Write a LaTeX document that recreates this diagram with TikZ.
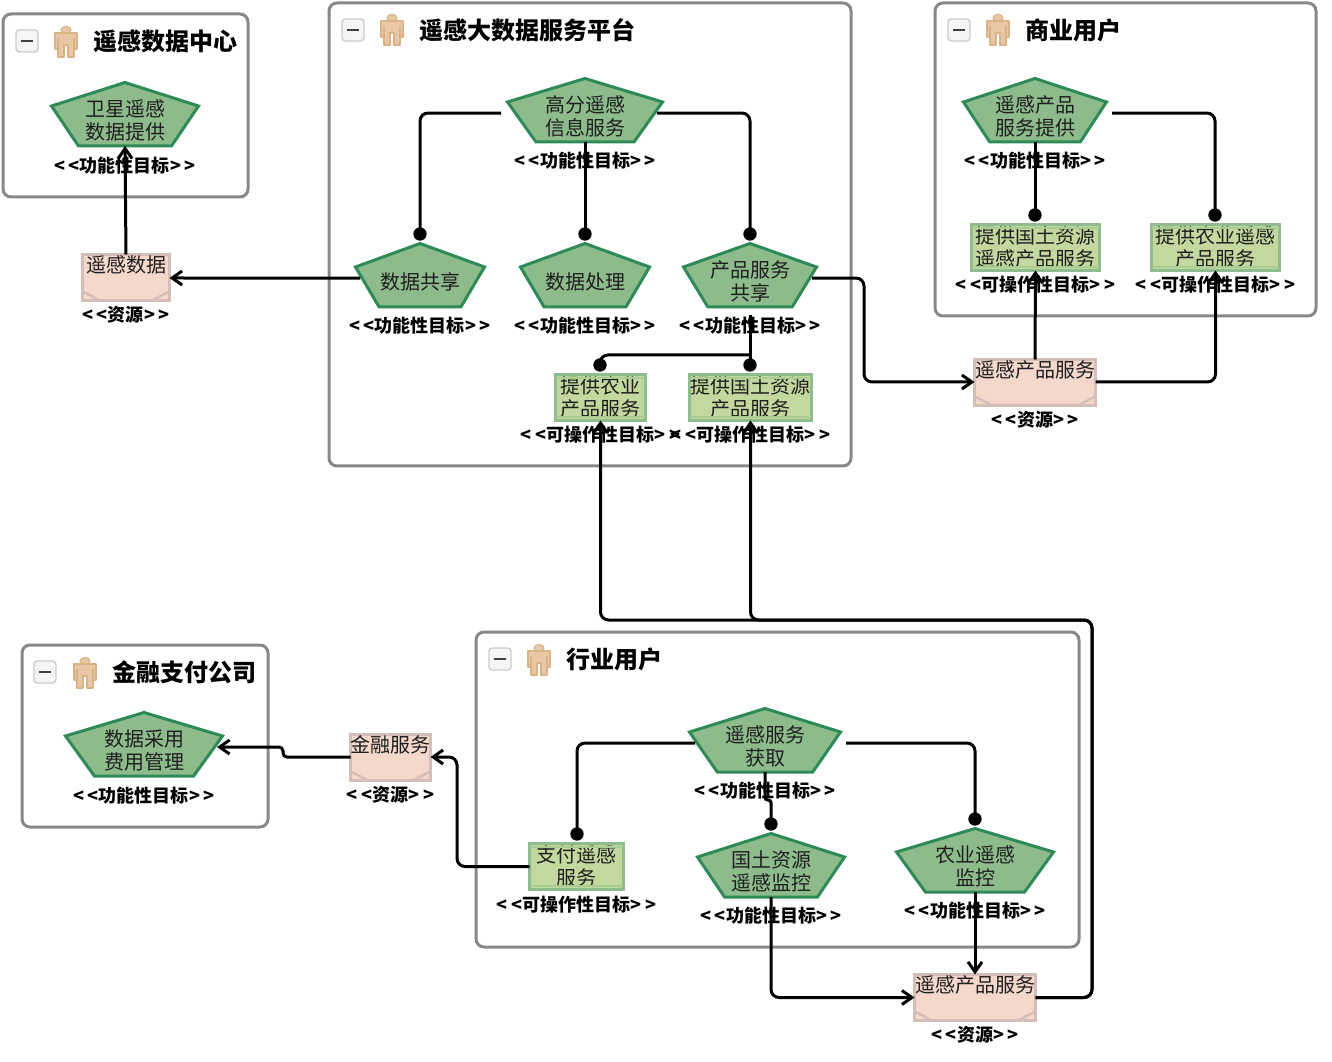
\documentclass[tikz,border=0pt]{standalone}
\usepackage{fontspec}
\setmainfont{Noto Sans CJK SC}
\usetikzlibrary{arrows.meta,calc}
\definecolor{goalfill}{HTML}{8DBB8C}
\definecolor{goalline}{HTML}{2E8B57}
\definecolor{opfill}{HTML}{C2D89E}
\definecolor{opline}{HTML}{8FBC8F}
\definecolor{opinner}{HTML}{A9CC92}
\definecolor{resfill}{HTML}{F4D8CC}
\definecolor{resline}{HTML}{D5BDB8}
\definecolor{boxline}{HTML}{888888}
\definecolor{personfill}{HTML}{EAC7A4}
\definecolor{personline}{HTML}{D9B286}
\tikzset{
  x=0.75pt,y=-0.75pt,
  container/.style={draw=boxline,line width=2.25pt,rounded corners=6pt,fill=white},
  goalshape/.style={draw=goalline,line width=2.25pt,fill=goalfill,line join=miter},
  goaltext/.style={inner sep=0pt,outer sep=0pt,align=center,text=black!88,font=\fontsize{15}{17.25}\selectfont,minimum height=38.25pt},
  opbox/.style={draw=opline,line width=2.25pt,fill=opfill,inner sep=0pt,outer sep=0pt,align=center,text=black!88,font=\fontsize{15}{17.25}\selectfont},
  opinnerline/.style={draw=opinner,line width=1.5pt},
  resbox/.style={draw=resline,line width=2.25pt,fill=resfill,inner sep=0pt,outer sep=0pt,align=center,text=black!88,font=\fontsize{15}{17.25}\selectfont},
  reschev/.style={draw=resline,line width=1.8pt},
  stereo/.style={inner sep=0pt,font=\bfseries\fontsize{13.5}{15}\selectfont},
  titletext/.style={inner sep=0pt,anchor=west,font=\bfseries\fontsize{18}{20}\selectfont},
  conn/.style={line width=2.25pt,draw=black,rounded corners=6pt},
  tip/.style={-{Straight Barb[length=7.5pt,width=10.5pt,line width=2.25pt]}},
  dotnode/.style={circle,fill=black,inner sep=0pt,minimum size=10pt,outer sep=0pt},
  btn/.style={draw=black!20,fill=black!4,line width=1.1pt,rounded corners=2.5pt,minimum size=16.5pt,inner sep=0pt},
}
\newcommand{\sterE}[1]{<\kern2.8pt<\kern0.2pt#1\kern0.2pt>\kern2.8pt>}
\newcommand{\goalnode}[6]{%
  \draw[goalshape] ({#2},{#3+1.5}) -- ({#2+#4-1.5},{#3+25}) -- ({#2+#4*0.62},{#3+65}) -- ({#2-#4*0.62},{#3+65}) -- ({#2-#4+1.5},{#3+25}) -- cycle;
  \node[goaltext,minimum width=#4*1.5pt] (#1) at ({#2},{#3+39.5}) {#5};
  \node[stereo] (#1-st) at ({#2},{#6}) {\sterE{功能性目标}};
}
\newcommand{\opnode}[7]{%
  \node[opbox,minimum width=(#4-#2-3)*.75pt,minimum height=(#5-#3-3)*.75pt] (#1) at ({(#2+#4)/2},{(#3+#5)/2}) {#6};
  \draw[opinnerline] ({#2+2},{#3+5}) -- ({#4-2},{#3+5});
  \draw[opinnerline] ({#2+2},{#5-5}) -- ({#4-2},{#5-5});
  \node[stereo] (#1-st) at ({(#2+#4)/2},{#7}) {\sterE{可操作性目标}};
}
\newcommand{\resnode}[6]{%
  \node[resbox,minimum width=(#4-#2-3)*.75pt,minimum height=(#5-#3-3)*.75pt] (#1) at ({(#2+#4)/2},{(#3+#5)/2}) {\raisebox{3.9pt}[0pt][0pt]{#6}};
  \draw[reschev] ({#2+1},{#5-11}) -- ({#2+18},{#5-2});
  \draw[reschev] ({#4-1},{#5-11}) -- ({#4-18},{#5-2});
  \node[stereo] (#1-st) at ({(#2+#4)/2},{#5+13}) {\sterE{资源}};
}
\newcommand{\header}[6]{%
  \node[btn] (#1-btn) at ({#2},{#3}) {};
  \draw[line width=2pt,draw=black!75] ({#2-6},{#3}) -- ({#2+6},{#3});
  \begin{scope}[shift={({#4},{#5})}]
    \draw[fill=personfill,draw=personline,line width=.8pt] (0,4) ellipse (5 and 3.6);
    \draw[fill=personfill,draw=personline,line width=.8pt,line join=round] (-11,7) -- (11,7) -- (11,23) -- (8,23) -- (8,31) -- (2,31) -- (2,19) -- (-2,19) -- (-2,31) -- (-8,31) -- (-8,23) -- (-11,23) -- cycle;
    \draw[draw=personline,line width=.8pt] (-8,12) -- (-8,23) (8,12) -- (8,23);
  \end{scope}
  \node[titletext] (#1-title) at ({#4+27},{#3}) {#6};
}
\begin{document}
\begin{tikzpicture}
\useasboundingbox (0,0) rectangle (1332,1062);
% containers
\draw[container] (3,14) rectangle (248,197);
\draw[container] (329,3) rectangle (851,466);
\draw[container] (935,3) rectangle (1316,316);
\draw[container] (22,645) rectangle (268,827);
\draw[container] (476,632) rectangle (1079,947);
\header{c1}{27}{41}{66}{26}{遥感数据中心}
\header{c2}{353}{30}{392}{14}{遥感大数据服务平台}
\header{c3}{959}{30}{998}{14}{商业用户}
\header{c4}{45}{672}{85}{657}{金融支付公司}
\header{c5}{500}{659}{539}{644}{行业用户}
% goals
\goalnode{sat}{125}{81}{75}{卫星遥感\\数据提供}{166}
\goalnode{gf}{585}{77}{79}{高分遥感\\信息服务}{161}
\goalnode{share}{420}{242}{66}{数据共享}{326}
\goalnode{proc}{585}{242}{66}{数据处理}{326}
\goalnode{pshare}{750}{242}{68}{产品服务\\共享}{326}
\goalnode{prov}{1035}{77}{73}{遥感产品\\服务提供}{161}
\goalnode{fee}{144}{711}{80}{数据采用\\费用管理}{796}
\goalnode{get}{765}{707}{77}{遥感服务\\获取}{791}
\goalnode{land}{771}{832}{75}{国土资源\\遥感监控}{916}
\goalnode{agri}{975}{827}{80}{农业遥感\\监控}{911}
% operational goals
\opnode{oland}{970}{223}{1101}{272}{提供国土资源\\遥感产品服务}{285}
\opnode{oagri}{1150}{223}{1281}{272}{提供农业遥感\\产品服务}{285}
\opnode{pagri}{554}{373}{647}{422}{提供农业\\产品服务}{435}
\opnode{pland}{688}{373}{813}{422}{提供国土资源\\产品服务}{435}
\opnode{pay}{528}{842}{625}{891}{支付遥感\\服务}{905}
% resources
\resnode{rdata}{81}{253}{171}{302}{遥感数据}
\resnode{rprod}{973}{358}{1097}{407}{遥感产品服务}
\resnode{rfin}{349}{733}{432}{782}{金融服务}
\resnode{rind}{913}{973}{1037}{1022}{遥感产品服务}
% dots
\node[dotnode] (d1) at (420,234) {};
\node[dotnode] (d2) at (585,234) {};
\node[dotnode] (d3) at (750,234) {};
\node[dotnode] (d4) at (600,365) {};
\node[dotnode] (d5) at (750,365) {};
\node[dotnode] (d6) at (1035,215) {};
\node[dotnode] (d7) at (1215,215) {};
\node[dotnode] (d8) at (577,834) {};
\node[dotnode] (d9) at (771,824) {};
\node[dotnode] (d10) at (975,819) {};
\coordinate (b1) at (750,355);
\coordinate (b2) at (864,382);
\coordinate (b3) at (1092,620);
\coordinate (b4) at (457,757);
\coordinate (b5) at (283,747);
\coordinate (b6) at (765,800);
% connectors
\draw[conn,tip] (rdata.north) -- (sat.south);
\draw[conn,tip] ([xshift=4.5pt,yshift=2.6pt]share.west) -- (rdata.east |- {0,278});
\draw[conn] ([xshift=-3.75pt,yshift=2.6pt]gf.west) -| (d1.center);
\draw[conn] (gf.south) -- (d2.center);
\draw[conn] ([xshift=-5.25pt,yshift=2.6pt]gf.east) -| (d3.center);
\draw[conn] ([yshift=-6pt]pshare.south) -- (d5.center);
\draw[conn] (b1) -- (750-150,355) -- (d4.center);
\draw[conn,tip] ([xshift=-4.5pt,yshift=2.6pt]pshare.east) -| (b2) -- (rprod.west |- b2);
\draw[conn,tip] (rprod.north) -- (oland.south);
\draw[conn,tip] (rprod.east |- b2) -| (oagri.south);
\draw[conn] (prov.south) -- (d6.center);
\draw[conn] ([xshift=3pt,yshift=2.6pt]prov.east) -| (d7.center);
\draw[conn,tip] (rind.east) -| (b3) -| (pland.south);
\draw[conn,tip] (rind.east) -| (b3) -| (pagri.south);
\draw[conn] ([xshift=5.25pt,yshift=2.6pt]get.west) -| (d8.center);
\draw[conn,rounded corners=2pt] (get.south) -- (b6) -- (d9.center |- b6) -- (d9.center);
\draw[conn] ([xshift=3pt,yshift=2.6pt]get.east) -| (d10.center);
\draw[conn,tip] (land.south) |- (rind.west);
\draw[conn,tip] (agri.south) -- (rind.north);
\draw[conn,tip] (pay.west) -| (b4) -- (rfin.east |- b4);
\draw[conn,rounded corners=3pt,tip] (rfin.west |- b4) -| (b5) -- ([xshift=-5.25pt,yshift=2.6pt]fee.east);
\end{tikzpicture}
\end{document}
